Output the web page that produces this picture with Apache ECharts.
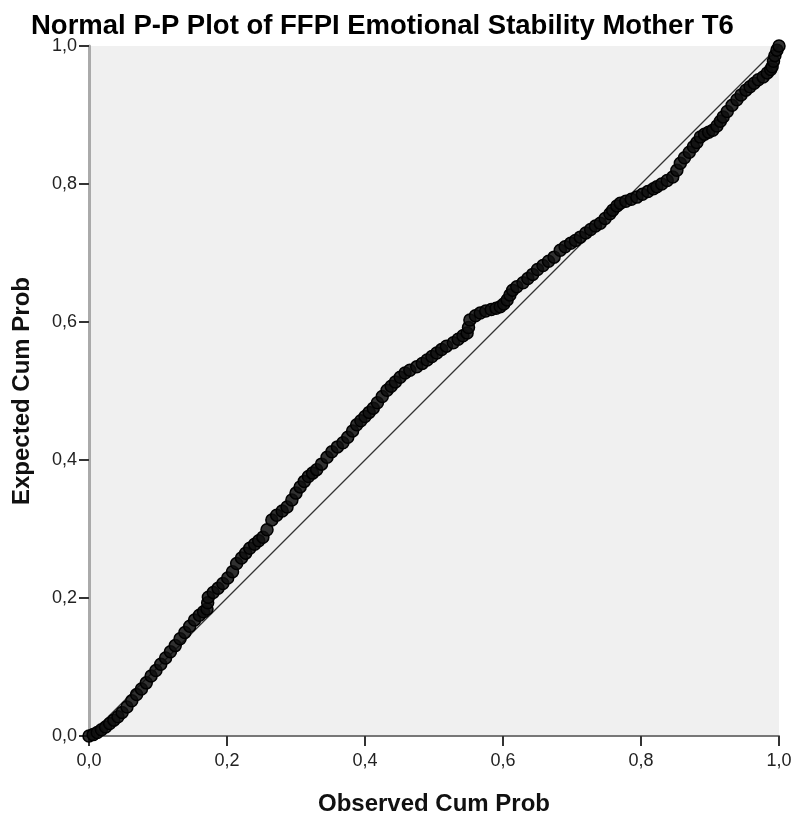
<!DOCTYPE html>
<html>
<head>
<meta charset="utf-8">
<script src="https://cdn.jsdelivr.net/npm/echarts@6/dist/echarts.min.js"></script>
<style>html,body{margin:0;padding:0;background:#fff;}#c{width:795px;height:815px;}</style>
</head>
<body>
<div id="c"></div>
<script>
const titleText = 'Normal P-P Plot of FFPI Emotional Stability Mother T6';
const xAxisName = 'Observed Cum Prob';
const yAxisName = 'Expected Cum Prob';
const tickValues = [0, 0.2, 0.4, 0.6, 0.8, 1.0];

const observedCum = [
0.000,0.006,0.012,0.018,0.024,0.030,0.036,0.042,0.048,0.055,0.062,0.069,0.076,0.083,0.090,0.097,0.104,0.111,0.118,0.125,0.132,0.139,0.146,0.153,0.160,0.166,0.171,
0.172,0.173,0.180,0.187,0.194,0.201,0.208,0.214,0.221,0.227,0.233,0.240,0.246,0.252,0.258,0.265,0.272,0.280,0.287,0.294,0.300,0.306,
0.312,0.318,0.324,0.330,0.337,0.345,0.352,0.360,0.368,0.375,0.382,0.388,0.394,0.400,0.406,0.412,0.418,0.425,0.432,0.438,0.444,0.451,0.458,0.465,0.475,0.483,0.490,0.497,0.504,0.511,0.518,0.528,0.535,0.542,0.548,0.550,0.552,
0.560,0.567,0.575,0.583,0.590,0.596,0.601,0.606,0.610,0.614,0.620,0.629,0.636,0.643,0.650,0.658,0.666,0.674,0.683,0.690,0.698,0.705,0.712,0.720,0.727,0.734,0.741,0.748,0.755,0.759,0.765,0.770,
0.778,0.786,0.794,0.802,0.810,0.818,0.823,0.830,0.838,0.846,0.852,0.857,0.863,0.870,0.876,0.881,0.886,0.892,0.898,0.904,0.910,0.915,0.919,0.925,0.932,0.939,0.945,0.952,0.958,0.964,0.970,0.977,0.983,0.988,0.990,0.992,0.994,0.997,1.000
];
const expectedCum = [
0.000,0.002,0.005,0.009,0.013,0.018,0.023,0.028,0.034,0.042,0.051,0.060,0.068,0.077,0.087,0.095,0.104,0.113,0.122,0.131,0.141,0.150,0.159,0.168,0.175,0.180,0.184,
0.193,0.201,0.208,0.214,0.221,0.229,0.238,0.250,0.258,0.265,0.272,0.278,0.283,0.288,0.299,0.313,0.320,0.326,0.332,0.342,0.352,0.361,
0.369,0.376,0.381,0.386,0.394,0.404,0.412,0.419,0.425,0.433,0.442,0.451,0.457,0.463,0.469,0.475,0.483,0.492,0.501,0.507,0.513,0.520,0.526,0.530,0.535,0.540,0.545,0.550,0.555,0.560,0.565,0.570,0.575,0.580,0.584,0.592,0.603,
0.609,0.613,0.616,0.618,0.620,0.622,0.626,0.632,0.639,0.646,0.651,0.657,0.663,0.669,0.676,0.682,0.688,0.694,0.704,0.709,0.714,0.718,0.723,0.729,0.734,0.739,0.743,0.750,0.757,0.762,0.768,0.772,
0.775,0.778,0.781,0.785,0.789,0.793,0.796,0.800,0.805,0.810,0.820,0.830,0.838,0.846,0.854,0.860,0.868,0.872,0.875,0.878,0.884,0.891,0.897,0.905,0.914,0.922,0.929,0.936,0.941,0.946,0.951,0.955,0.961,0.966,0.970,0.978,0.986,0.994,1.000
];
const refLine = [[0, 0], [1, 1]];

const fmt = v => v.toFixed(1).replace('.', ',');
const points = observedCum.map((x, i) => [x, expectedCum[i]]);
const FONT = 'Liberation Sans, Arial, sans-serif';

const chart = echarts.init(document.getElementById('c'), null, {renderer: 'canvas'});
const axisCommon = {
  type: 'value', min: 0, max: 1, interval: 0.2,
  splitLine: {show: false},
  axisTick: {show: true, length: 10, lineStyle: {color: '#333', width: 2}},
  axisLabel: {color: '#222', fontSize: 18, fontFamily: FONT, formatter: fmt},
  nameLocation: 'middle',
  nameTextStyle: {color: '#111', fontSize: 24, fontWeight: 'bold', fontFamily: FONT}
};
chart.setOption({
  animation: false,
  backgroundColor: '#ffffff',
  title: {
    text: titleText, left: 26, top: 7,
    textStyle: {color: '#000', fontSize: 27.5, fontWeight: 'bold', fontFamily: FONT}
  },
  grid: {left: 89, right: 16, top: 46, bottom: 79, containLabel: false, outerBoundsMode: 'none',
         show: true, backgroundColor: '#f0f0f0', borderWidth: 0},
  xAxis: Object.assign({}, axisCommon, {
    name: xAxisName, nameGap: 56,
    axisLine: {show: true, lineStyle: {color: '#777', width: 2}},
    axisLabel: Object.assign({}, axisCommon.axisLabel, {margin: 16})
  }),
  yAxis: Object.assign({}, axisCommon, {
    name: yAxisName, nameGap: 55,
    axisLine: {show: true, lineStyle: {color: '#aaa', width: 3}},
    axisLabel: Object.assign({}, axisCommon.axisLabel, {margin: 12})
  }),
  series: [
    {
      type: 'line', data: refLine, symbol: 'none', silent: true,
      lineStyle: {color: '#333', width: 1.3}, z: 1
    },
    {
      type: 'scatter', data: points, symbol: 'circle', symbolSize: 12,
      itemStyle: {color: 'rgba(15,15,15,0.85)', borderColor: '#000', borderWidth: 1.5, opacity: 1},
      z: 2
    }
  ]
});
</script>
</body>
</html>
